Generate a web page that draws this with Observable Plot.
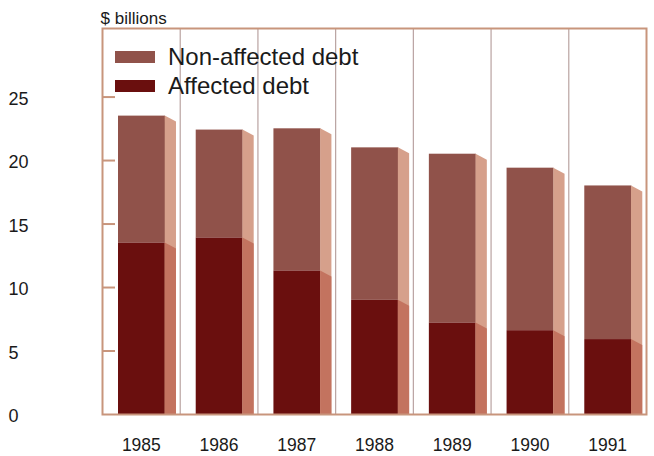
<!DOCTYPE html>
<html>
<head>
<meta charset="utf-8">
<script src="https://cdn.jsdelivr.net/npm/d3@7"></script>
<script src="https://cdn.jsdelivr.net/npm/@observablehq/plot@0.6"></script>
<style>
  body { margin: 0; background: #fff; font-family: "Liberation Sans", Arial, sans-serif; }
  #chart { position: relative; width: 654px; height: 456px; }
  #chart svg { position: absolute; left: 0; top: 0; }
  .leg { position: absolute; display: flex; align-items: center; color: #1a1a1a; font-size: 24px; line-height: 1; }
  .sw { width: 40px; height: 12px; margin-right: 13px; }
</style>
</head>
<body>
<div id="chart"></div>
<script>
const years = [1985, 1986, 1987, 1988, 1989, 1990, 1991];
const affected = [13.5, 13.9, 11.3, 9.0, 7.2, 6.6, 5.9];
const nonAffected = [10.0, 8.5, 11.2, 12.0, 13.3, 12.8, 12.1];
const yTickValues = [0, 5, 10, 15, 20, 25];
const seriesNames = ["Non-affected debt", "Affected debt"];
const frontColors = ["#90524a", "#6a0f0e"];
const sideColors = ["#d6a08b", "#c3735f"];
const yLabel = "$ billions";

const frontRows = years.flatMap((yr, i) => [
  {year: yr, series: seriesNames[0], y1: affected[i], y2: affected[i] + nonAffected[i]},
  {year: yr, series: seriesNames[1], y1: 0, y2: affected[i]}
]);
// side (3D) faces: trapezoids whose top edge slopes down to the right
const slant = 0.47;
const sideRows = years.flatMap((yr, i) => {
  const tot = affected[i] + nonAffected[i];
  return [
    {key: yr + "n", series: seriesNames[0], x: yr + 0.307, y: tot},
    {key: yr + "n", series: seriesNames[0], x: yr + 0.452, y: tot - slant},
    {key: yr + "a", series: seriesNames[1], x: yr + 0.307, y: affected[i]},
    {key: yr + "a", series: seriesNames[1], x: yr + 0.452, y: affected[i] - slant}
  ];
});
const boundaries = years.slice(1).map(y => y - 0.5);
const frameColor = "#c8957c";

const plot = Plot.plot({
  width: 654,
  height: 456,
  marginLeft: 102,
  marginRight: 8,
  marginTop: 28,
  marginBottom: 42,
  style: {fontFamily: "'Liberation Sans', Arial, sans-serif", background: "transparent"},
  x: {type: "linear", domain: [1984.5, 1991.5], axis: null},
  y: {domain: [0, 30.4], axis: null},
  marks: [
    Plot.ruleX(boundaries, {stroke: "#b9a3a1", strokeWidth: 1.2}),
    Plot.rect(frontRows.filter(d => d.series === seriesNames[0]), {
      x1: d => d.year - 0.5, x2: d => d.year + 0.5, y1: "y1", y2: "y2",
      fill: frontColors[0], insetLeft: 16, insetRight: 14.7
    }),
    Plot.rect(frontRows.filter(d => d.series === seriesNames[1]), {
      x1: d => d.year - 0.5, x2: d => d.year + 0.5, y1: "y1", y2: "y2",
      fill: frontColors[1], insetLeft: 16, insetRight: 14.7
    }),
    Plot.areaY(sideRows.filter(d => d.series === seriesNames[0]), {
      x: "x", y1: 0, y2: "y", z: "key", fill: sideColors[0]
    }),
    Plot.areaY(sideRows.filter(d => d.series === seriesNames[1]), {
      x: "x", y1: 0, y2: "y", z: "key", fill: sideColors[1]
    }),
    Plot.frame({stroke: frameColor, strokeWidth: 2}),
    Plot.tickY(yTickValues.filter(v => v > 0), {y: d => d, stroke: frameColor, strokeWidth: 2, insetRight: 531}),
    Plot.text(yTickValues, {y: d => d, frameAnchor: "left", textAnchor: "start", lineAnchor: "middle", dx: -94, dy: 2, text: d => String(d), fontSize: 18, fill: "#1a1a1a"}),
    Plot.text(years, {x: d => d, frameAnchor: "bottom", lineAnchor: "middle", dy: 31, text: d => String(d), fontSize: 17.5, fill: "#1a1a1a"}),
    Plot.text([yLabel], {frameAnchor: "top-left", textAnchor: "start", lineAnchor: "middle", dx: -2, dy: -10, text: d => d, fontSize: 17, fill: "#1a1a1a"})
  ]
});
const chart = document.getElementById("chart");
chart.appendChild(plot);

// legend inside the plot area (top-left)
const legendPos = [{left: 115, top: 45}, {left: 115, top: 74}];
seriesNames.forEach((name, i) => {
  const div = document.createElement("div");
  div.className = "leg";
  div.style.left = legendPos[i].left + "px";
  div.style.top = legendPos[i].top + "px";
  const sw = document.createElement("span");
  sw.className = "sw";
  sw.style.background = frontColors[i];
  const tx = document.createElement("span");
  tx.textContent = name;
  div.appendChild(sw);
  div.appendChild(tx);
  chart.appendChild(div);
});
</script>
</body>
</html>
